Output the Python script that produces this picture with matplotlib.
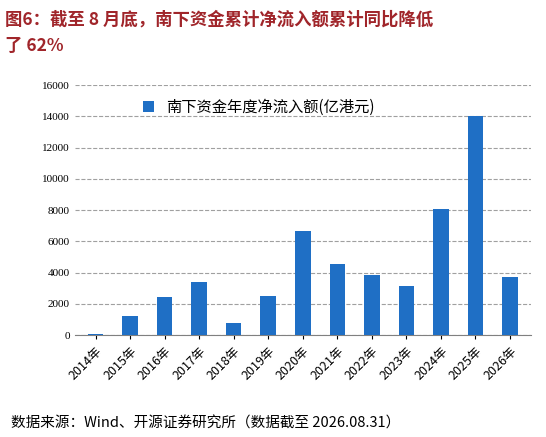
import matplotlib
matplotlib.use("Agg")
import matplotlib.pyplot as plt

plt.rcParams['font.family'] = ['Noto Sans CJK SC', 'DejaVu Sans']

years = ["2014年","2015年","2016年","2017年","2018年","2019年","2020年","2021年","2022年","2023年","2024年","2025年","2026年"]
values = [100,1250,2450,3400,800,2500,6700,4550,3850,3150,8050,14000,3750]
yticks = list(range(0,16001,2000))

fig = plt.figure(figsize=(5.46,4.37), dpi=100)
ax = fig.add_axes([0.137,0.233,0.835,0.572])
ax.bar(range(len(years)), values, width=0.45, color='#1F6FC5', label='南下资金年度净流入额(亿港元)', zorder=3)
ax.set_ylim(0,16000)
ax.set_xlim(-0.6,len(years)-0.4)
ax.set_yticks(yticks)
ax.set_yticklabels([str(v) for v in yticks], fontsize=8, family=['Liberation Serif','DejaVu Serif'])
ax.set_xticks(range(len(years)))
ax.set_xticklabels(years, rotation=45, ha='right', rotation_mode='anchor', fontsize=9)
ax.grid(axis='y', linestyle='--', color='#A0A0A0', linewidth=0.8, zorder=0)
for s in ['top','right','left']:
    ax.spines[s].set_visible(False)
ax.spines['bottom'].set_color('#808080')
ax.tick_params(axis='y', length=0)
ax.tick_params(axis='x', length=3)
ax.legend(loc='upper left', bbox_to_anchor=(0.12,1.0), frameon=False, fontsize=11, handlelength=0.7, handleheight=0.7)
fig.text(0.01,0.975,"图6：截至 8 月底，南下资金累计净流入额累计同比降低\n了 62%", color='#A0252A', fontsize=12.5, fontweight='bold', va='top', linespacing=1.6)
fig.text(0.02,0.015,"数据来源：Wind、开源证券研究所（数据截至 2026.08.31）", fontsize=10.5, va='bottom')
fig.savefig("out.png", dpi=100)
